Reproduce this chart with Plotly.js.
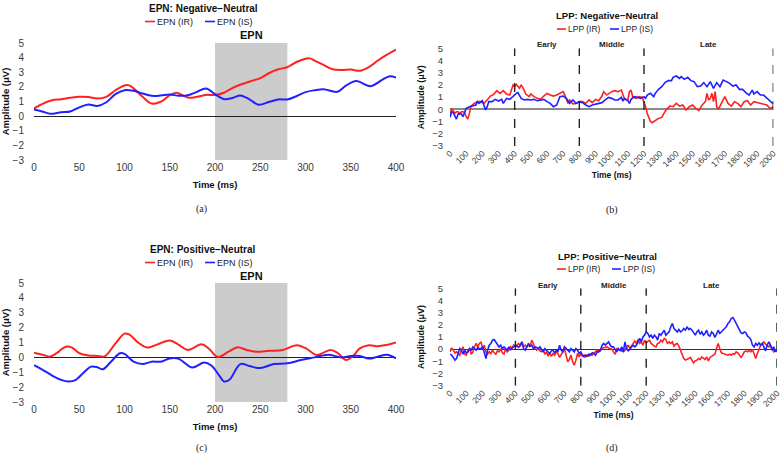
<!DOCTYPE html>
<html><head><meta charset="utf-8">
<script src="https://cdn.plot.ly/plotly-3.0.1.min.js"></script>
<style>html,body{margin:0;padding:0;background:#fff}#chart{width:783px;height:453px}</style>
</head><body><div id="chart"></div>
<script>
// ---------- DATA ----------
// Panel (a) EPN: Negative-Neutral
const EPN_A_IR_T = [0,10,20,30,40,50,60,70,80,90,100,105,110,120,130,140,150,157,160,170,180,190,200,210,220,230,240,250,260,270,280,290,300,305,310,320,330,340,350,360,370,380,390,400];
const EPN_A_IR   = [0.52,0.86,1.09,1.16,1.25,1.32,1.30,1.20,1.32,1.77,2.10,2.10,1.90,1.32,0.86,0.98,1.43,1.60,1.55,1.27,1.32,1.45,1.45,1.60,1.95,2.20,2.40,2.60,2.95,3.20,3.35,3.70,3.93,3.95,3.80,3.50,3.20,3.15,3.18,3.10,3.35,3.80,4.20,4.55];
const EPN_A_IS_T = [0,10,18,30,40,50,60,70,80,90,100,110,120,130,140,150,160,170,180,190,200,210,220,228,238,248,260,270,280,290,300,310,320,335,345,356,372,385,393,400];
const EPN_A_IS   = [0.45,0.30,0.16,0.27,0.32,0.60,0.80,0.70,0.95,1.50,1.77,1.73,1.55,1.39,1.41,1.48,1.39,1.43,1.66,1.89,1.50,1.16,1.25,1.41,1.15,0.78,0.98,1.14,1.14,1.36,1.64,1.77,1.84,1.66,2.10,2.40,2.05,2.50,2.73,2.64];

// Panel (c) EPN: Positive-Neutral
const EPN_C_IR_T = [0,10,17,25,35,42,50,60,70,78,90,100,105,115,125,135,150,160,170,185,193,203,215,225,235,245,260,275,290,300,312,320,328,335,345,352,360,370,380,390,400];
const EPN_C_IR   = [0.32,0.17,0.05,0.28,0.72,0.66,0.28,0.12,0.10,0.07,0.94,1.60,1.55,1.00,0.66,0.84,1.14,0.84,0.50,0.88,0.60,0.03,0.38,0.68,0.50,0.38,0.44,0.50,0.82,0.62,0.16,0.32,0.50,0.32,-0.18,0.05,0.60,0.82,0.75,0.84,1.00];
const EPN_C_IS_T = [0,10,20,30,38,45,55,63,70,76,85,95,100,110,120,130,140,150,160,175,188,196,205,210,216,228,238,250,265,280,295,310,325,340,350,360,370,380,390,400];
const EPN_C_IS   = [-0.52,-0.85,-1.22,-1.51,-1.62,-1.55,-1.02,-0.62,-0.66,-0.80,-0.29,0.28,0.23,-0.29,-0.45,-0.29,-0.29,-0.07,-0.10,-0.68,-0.35,-0.55,-1.25,-1.62,-1.50,-0.45,-0.58,-0.72,-0.45,-0.40,-0.18,0.00,0.18,0.00,0.10,0.10,-0.08,0.05,0.18,-0.07];

// Panel (b) LPP: Negative-Neutral
const LPP_B_IR_T = [0,10,20,30,40,50,60,70,80,90,100,110,120,130,150,170,190,210,230,250,270,290,310,330,350,370,390,400,410,430,440,450,470,490,500,520,540,560,580,600,620,640,660,680,700,710,730,740,760,780,800,820,840,860,880,900,920,940,950,970,990,1000,1020,1040,1060,1080,1100,1110,1120,1130,1150,1170,1190,1200,1210,1220,1230,1240,1250,1270,1290,1310,1320,1330,1340,1360,1380,1400,1420,1440,1460,1480,1500,1520,1540,1560,1580,1590,1600,1610,1620,1630,1640,1650,1660,1680,1700,1720,1740,1760,1780,1800,1820,1840,1860,1880,1900,1920,1940,1960,1980,2000];
const LPP_B_IR   = [-0.46,0.08,-0.10,-0.33,-0.19,-0.19,-0.38,-0.19,-0.19,-0.27,-0.60,-0.80,-0.33,0.27,0.49,0.63,0.63,0.49,0.77,1.09,1.23,1.53,1.31,1.53,1.26,1.17,2.00,1.86,2.05,1.72,2.00,1.80,1.23,1.04,1.26,1.04,0.90,0.82,1.09,1.31,1.17,1.09,1.17,1.31,1.45,1.17,0.49,0.77,0.44,0.49,0.63,0.63,0.49,0.77,0.55,0.82,0.71,1.09,1.45,1.17,1.37,1.45,1.53,1.45,1.58,0.82,0.77,1.45,1.58,1.04,0.90,1.04,0.98,0.63,0.22,-0.33,-0.74,-1.00,-1.09,-0.93,-0.74,-0.66,-0.38,-0.19,0.00,0.27,0.22,0.49,0.27,0.36,-0.05,0.22,0.36,0.08,-0.10,0.36,0.63,1.31,0.77,0.90,1.31,0.63,1.45,0.22,0.00,0.49,1.04,0.49,0.27,0.63,0.49,0.22,0.63,0.71,0.36,0.63,0.55,0.49,0.44,0.36,0.08,0.22];
const LPP_B_IS_T = [0,10,20,30,40,50,60,70,80,90,100,120,140,160,170,180,200,210,220,230,240,260,280,300,320,330,350,370,390,410,420,440,460,480,500,520,540,560,580,600,620,640,660,680,700,720,740,760,780,800,820,840,860,880,900,920,940,960,980,1000,1020,1040,1060,1070,1080,1100,1110,1120,1140,1160,1180,1200,1210,1220,1240,1260,1270,1290,1310,1330,1350,1370,1380,1400,1420,1430,1450,1470,1490,1510,1530,1550,1570,1590,1610,1630,1650,1670,1690,1710,1730,1750,1770,1790,1810,1830,1850,1870,1880,1900,1920,1940,1960,1980,2000];
const LPP_B_IS   = [-0.66,-0.19,-0.27,-0.60,-0.80,-0.38,-0.33,-0.38,-0.60,-0.27,0.08,0.22,0.27,0.36,0.63,0.49,0.71,0.36,-0.05,0.22,0.63,0.63,0.82,0.68,0.82,0.49,0.90,0.82,1.09,1.31,1.37,0.90,0.77,0.82,0.77,0.82,0.71,0.77,0.82,0.63,0.49,0.22,0.36,1.04,1.09,0.90,0.49,0.77,0.49,0.63,0.55,0.36,0.22,0.36,0.44,0.49,0.55,0.77,0.98,0.90,0.77,0.77,0.98,0.68,0.90,0.71,0.49,0.82,1.04,0.98,0.90,1.04,0.90,1.17,1.31,1.04,1.31,1.64,1.86,2.19,2.35,2.35,2.62,2.73,2.54,2.68,2.46,2.62,2.35,2.27,1.86,1.91,2.19,1.86,2.27,1.72,2.19,1.86,2.40,2.27,2.13,1.91,2.00,1.64,1.64,1.37,1.17,1.58,1.26,1.45,1.17,1.17,0.90,0.63,0.44];

// Panel (d) LPP: Positive-Neutral (sampled every 10 ms, 0..2000)
const LPP_D_IR = [-0.22,0.11,-0.08,-0.30,-0.22,-0.36,-0.49,-0.08,0.19,-0.41,-0.49,-0.08,0.05,-0.41,-0.22,0.19,0.47,0.19,0.47,0.60,0.05,0.33,-0.22,-0.41,-0.22,-0.36,-0.08,-0.30,-0.41,-0.14,-0.22,0.05,-0.30,-0.41,0.05,-0.22,-0.08,0.19,0.05,0.33,0.19,0.33,0.47,0.25,0.60,0.19,0.33,0.19,0.33,0.19,0.74,0.47,0.05,-0.08,0.05,-0.14,-0.22,-0.08,-0.41,-0.22,-0.58,-0.30,-0.58,-0.36,-0.49,-0.22,-0.36,-0.68,-0.49,-0.22,0.05,-0.49,-1.04,-0.85,-0.49,-1.04,-1.32,-0.90,-0.36,-0.63,-0.41,-0.58,-0.49,-0.63,-0.49,-0.58,-0.41,-0.49,-0.30,-0.22,-0.08,-0.10,-0.14,0.05,0.14,0.15,0.19,0.10,0.05,0.00,-0.22,-0.41,0.05,-0.05,-0.08,-0.15,-0.22,-0.08,0.19,0.33,0.05,0.30,0.52,0.68,0.47,0.79,0.47,0.60,0.33,0.74,0.52,0.60,0.74,0.47,0.33,0.25,0.19,0.47,0.52,0.74,0.60,0.88,0.79,0.47,0.60,0.47,0.60,0.25,0.41,0.47,0.25,-0.08,-0.49,-0.77,-0.90,-0.85,-0.77,-0.68,-0.85,-1.12,-0.96,-0.90,-0.77,-0.85,-0.63,-0.77,-0.85,-0.63,-0.96,-0.68,-0.58,-0.49,-0.41,0.05,0.47,0.05,-0.30,-0.36,-0.41,-0.49,-0.49,-0.41,-0.49,-0.36,-0.41,-0.22,-0.30,-0.49,-0.68,-0.49,-0.22,-0.14,-0.22,-0.08,-0.22,-0.03,-0.49,-0.77,-0.36,0.05,0.33,0.47,0.60,0.41,0.33,0.19,0.33,0.05,-0.22,-0.08,-0.22];
const LPP_D_IS = [-0.41,-0.49,-0.68,-0.90,-0.77,-0.30,0.05,-0.08,-0.41,-0.08,-0.30,-0.22,0.05,-0.08,0.19,0.05,-0.08,0.14,0.05,0.05,0.19,-0.30,-0.77,-0.08,0.33,0.47,0.74,0.79,0.60,0.41,0.19,0.33,0.05,0.19,0.05,-0.08,0.19,-0.08,0.14,0.19,0.33,0.19,0.14,0.33,0.60,0.05,-0.08,0.19,0.47,0.25,0.33,0.05,0.19,0.14,0.05,0.19,-0.08,-0.22,0.05,-0.08,-0.22,-0.36,-0.14,-0.08,-0.30,-0.08,-0.22,0.33,-0.08,-0.22,0.19,0.05,-0.08,-0.22,0.05,-0.08,-0.22,0.05,-0.08,-0.36,-0.22,-0.49,-0.63,-0.49,-0.58,-0.41,-0.49,-0.30,-0.36,-0.49,-0.22,-0.22,-0.08,0.33,0.47,0.33,0.47,0.60,0.33,0.19,0.19,-0.08,-0.22,0.05,-0.14,0.19,-0.22,0.60,0.05,-0.14,-0.03,0.19,0.33,0.19,0.33,0.60,0.88,0.60,1.01,1.15,1.42,1.29,1.01,1.15,0.88,1.15,1.01,0.74,1.29,1.15,1.42,1.56,1.15,1.29,1.42,1.84,2.11,1.70,1.56,1.42,1.62,1.42,1.51,1.70,1.56,1.84,1.62,1.70,1.56,1.34,1.15,1.42,1.56,1.23,1.42,1.15,1.29,1.56,1.15,1.07,1.42,1.29,0.96,1.23,1.56,1.29,1.42,1.56,1.70,1.84,2.11,2.25,2.52,2.60,2.38,2.11,1.78,1.56,1.34,1.29,1.42,1.34,1.07,0.96,0.79,0.33,0.19,0.47,0.33,0.52,0.33,0.47,0.19,-0.14,0.33,0.60,0.33,-0.08,0.19,-0.22,-0.03];
const LPP_D_T = LPP_D_IR.map((_, i) => i * 10);

const LPP_TICKS = [0,100,200,300,400,500,600,700,800,900,1000,1100,1200,1300,1400,1500,1600,1700,1800,1900,2000];
const EPN_TICKS = [0,50,100,150,200,250,300,350,400];
const AMP_TICKS = [-3,-2,-1,0,1,2,3,4,5];
const EPN_WINDOW = [200, 280];
const LPP_BOUNDS = [400, 800, 1200, 2000];
const LPP_PHASES = [{name:'Early', t:600}, {name:'Middle', t:1000}, {name:'Late', t:1600}];

// ---------- STYLE ----------
const W = 783, H = 453;
const RED = '#ff2020', BLUE = '#2020ff';
const FONT = 'Liberation Sans, Arial, sans-serif';
const SERIF = 'Liberation Serif, Times New Roman, serif';
const TICKC = '#3a3a3a';
const px = x => x / W, py = y => 1 - y / H;

const traces = [
  {x: EPN_A_IR_T, y: EPN_A_IR, xaxis:'x', yaxis:'y', name:'EPN (IR)', mode:'lines', line:{color:RED, width:2, shape:'spline', smoothing:1}},
  {x: EPN_A_IS_T, y: EPN_A_IS, xaxis:'x', yaxis:'y', name:'EPN (IS)', mode:'lines', line:{color:BLUE, width:2, shape:'spline', smoothing:1}},
  {x: LPP_B_IR_T, y: LPP_B_IR, xaxis:'x2', yaxis:'y2', name:'LPP (IR)', mode:'lines', line:{color:RED, width:1.6}},
  {x: LPP_B_IS_T, y: LPP_B_IS, xaxis:'x2', yaxis:'y2', name:'LPP (IS)', mode:'lines', line:{color:BLUE, width:1.6}},
  {x: EPN_C_IR_T, y: EPN_C_IR, xaxis:'x3', yaxis:'y3', name:'EPN (IR)', mode:'lines', line:{color:RED, width:2, shape:'spline', smoothing:1}},
  {x: EPN_C_IS_T, y: EPN_C_IS, xaxis:'x3', yaxis:'y3', name:'EPN (IS)', mode:'lines', line:{color:BLUE, width:2, shape:'spline', smoothing:1}},
  {x: LPP_D_T, y: LPP_D_IR, xaxis:'x4', yaxis:'y4', name:'LPP (IR)', mode:'lines', line:{color:RED, width:1.6}},
  {x: LPP_D_T, y: LPP_D_IS, xaxis:'x4', yaxis:'y4', name:'LPP (IS)', mode:'lines', line:{color:BLUE, width:1.6}}
];

function xAx(dom, anchor, range, ticks, small) {
  return {domain: dom, anchor: anchor, range: range, tickvals: ticks, showgrid:false, zeroline:false, showline:false,
    ticks: '', tickangle: small ? -45 : 0, tickfont:{family:FONT, size: small ? 8.5 : 10, color:TICKC},
    title:{text:'<b>Time (ms)</b>', font:{family:FONT, size: small ? 8.5 : 9.5, color:'#111'}, standoff: small ? 4 : 9},
    fixedrange:true};
}
function yAx(dom, anchor, small, zc, zw) {
  return {domain: dom, anchor: anchor, range:[-3,5], tickvals: AMP_TICKS, showgrid:false, showline:false,
    zeroline:true, zerolinecolor: zc, zerolinewidth: zw,
    ticks:'outside', ticklen: small ? 4 : 7, tickcolor:'rgba(0,0,0,0)',
    tickfont:{family:FONT, size: small ? 9.5 : 10, color:TICKC},
    title:{text:'<b>Amplitude (μV)</b>', font:{family:FONT, size: small ? 9 : 9.5, color:'#111'}, standoff: small ? 6 : 8},
    fixedrange:true};
}

const domA = [px(34), px(396)], domB = [px(450), px(773.3)], domD = [px(450), px(777)];
const layout = {
  width: W, height: H, margin:{l:0,r:0,t:0,b:0}, showlegend:false,
  paper_bgcolor:'#fff', plot_bgcolor:'rgba(0,0,0,0)',
  font:{family:FONT},
  xaxis:  xAx(domA, 'y',  [0,400], EPN_TICKS, false),
  yaxis:  yAx([py(160), py(43)], 'x', false, '#222', 1),
  xaxis2: xAx(domB, 'y2', [0,2000], LPP_TICKS, true),
  yaxis2: yAx([py(146), py(48.3)], 'x2', true, '#8a8a8a', 2),
  xaxis3: xAx(domA, 'y3', [0,400], EPN_TICKS, false),
  yaxis3: yAx([py(402), py(283)], 'x3', false, '#222', 1),
  xaxis4: xAx(domD, 'y4', [0,2000], LPP_TICKS, true),
  yaxis4: yAx([py(385.7), py(288.3)], 'x4', true, '#333', 1.2),
  shapes: [], annotations: []
};

// EPN window shading
[['x','y'],['x3','y3']].forEach(([xr,yr]) => {
  layout.shapes.push({type:'rect', xref:xr, yref:yr, x0:EPN_WINDOW[0], x1:EPN_WINDOW[1], y0:-3, y1:5,
    fillcolor:'#cccccc', line:{width:0}, layer:'below'});
  layout.annotations.push({xref:xr, yref:'paper', x:(EPN_WINDOW[0]+EPN_WINDOW[1])/2,
    y: xr==='x' ? py(35) : py(276), text:'<b>EPN</b>', showarrow:false, font:{family:FONT, size:11, color:'#111'}, yanchor:'middle'});
});
// LPP phase boundaries and labels
[['x2','y2',py(45)],['x4','y4',py(285)]].forEach(([xr,yr,ly]) => {
  LPP_BOUNDS.forEach(b => layout.shapes.push({type:'line', xref:xr, yref:yr, x0:b, x1:b, y0:-3, y1:5,
    line:{color:'#222', width:1.4, dash:'dash'}}));
  LPP_PHASES.forEach(p => layout.annotations.push({xref:xr, yref:'paper', x:p.t, y:ly, text:'<b>'+p.name+'</b>',
    showarrow:false, font:{family:FONT, size:8, color:'#222'}, yanchor:'middle'}));
});

function note(text, x, y, size, fam, color, anchor) {
  layout.annotations.push({xref:'paper', yref:'paper', x:px(x), y:py(y), text:text, showarrow:false,
    xanchor:anchor||'center', yanchor:'middle', font:{family:fam||FONT, size:size, color:color||'#111'}});
}
// legend entry: short coloured line sample followed by the label
function leg(label, color, x, y, size, len) {
  layout.shapes.push({type:'line', xref:'paper', yref:'paper', x0:px(x), x1:px(x+len), y0:py(y), y1:py(y),
    line:{color:color, width:1.6}});
  note(label, x+len, y, size, FONT, '#222', 'left');
}
// panel titles + legends
note('<b>EPN: Negative−Neutral</b>', 203, 9, 10);
leg('EPN (IR)', RED, 145, 21.5, 9, 10); leg('EPN (IS)', BLUE, 205, 21.5, 9, 10);
note('<b>LPP: Negative−Neutral</b>', 607, 16, 9.5);
leg('LPP (IR)', RED, 557, 29, 8.5, 9); leg('LPP (IS)', BLUE, 610, 29, 8.5, 9);
note('<b>EPN: Positive−Neutral</b>', 203, 249, 10);
leg('EPN (IR)', RED, 145, 262.5, 9, 10); leg('EPN (IS)', BLUE, 205, 262.5, 9, 10);
note('<b>LPP: Positive−Neutral</b>', 607, 256, 9.5);
leg('LPP (IR)', RED, 557, 269, 8.5, 9); leg('LPP (IS)', BLUE, 612, 269, 8.5, 9);
// captions
note('(a)', 201, 209, 10, SERIF, '#222'); note('(b)', 612, 210, 10, SERIF, '#222');
note('(c)', 201, 448, 10, SERIF, '#222'); note('(d)', 612, 448, 10, SERIF, '#222');

Plotly.newPlot('chart', traces, layout, {displayModeBar:false, staticPlot:true});
</script>
</body></html>
